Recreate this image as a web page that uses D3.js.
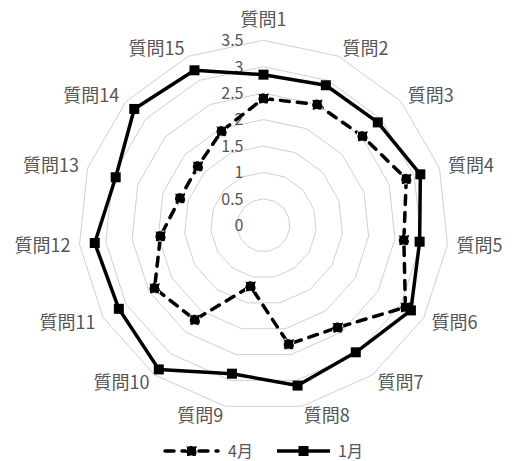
<!DOCTYPE html>
<html>
<head>
<meta charset="utf-8">
<script src="https://cdn.jsdelivr.net/npm/d3@7"></script>
<style>
  html, body { margin: 0; padding: 0; background: #fff; }
  svg { display: block; }
  text { font-family: "Noto Sans CJK JP", "Noto Sans", sans-serif; }
</style>
</head>
<body>
<svg id="chart" width="512" height="461"></svg>
<script>
// Survey results by question, two months
const categories = ["質問1","質問2","質問3","質問4","質問5","質問6","質問7","質問8",
                    "質問9","質問10","質問11","質問12","質問13","質問14","質問15"];
const seriesNames = ["4月", "1月"];
const aprilValues = [2.40, 2.50, 2.52, 2.84, 2.67, 3.10, 2.39, 2.30, 1.18, 2.21, 2.38, 1.96, 1.66, 1.67, 1.95];
const januaryValues = [2.85, 2.90, 2.91, 3.12, 2.97, 3.22, 2.97, 3.10, 2.87, 3.37, 3.16, 3.21, 2.94, 3.29, 3.21];
const tickValues = [0, 0.5, 1, 1.5, 2, 2.5, 3, 3.5];
const tickLabels = ["0", "0.5", "1", "1.5", "2", "2.5", "3", "3.5"];

const svg = d3.select("#chart");
const cx = 263.5, cy = 225.3;
const rMax = 185;

const r = d3.scaleLinear().domain([0, 3.5]).range([0, rMax]);
const step = 2 * Math.PI / categories.length;
const ang = (i) => i * step;

const g = svg.append("g").attr("transform", `translate(${cx},${cy})`);

// Polygonal grid rings
const ringLine = d3.lineRadial().curve(d3.curveLinearClosed);
g.append("g").selectAll("path")
  .data(tickValues.filter(v => v > 0))
  .join("path")
  .attr("d", v => ringLine(categories.map((c, i) => [ang(i), r(v)])))
  .attr("fill", "none")
  .attr("stroke", "#d0d0d0")
  .attr("stroke-width", 1);

// Value axis labels along the top spoke
g.append("g").selectAll("text")
  .data(tickValues)
  .join("text")
  .attr("x", -20)
  .attr("y", v => -r(v))
  .attr("dy", "0.36em")
  .attr("text-anchor", "end")
  .attr("font-size", 16)
  .attr("fill", "#555")
  .text((v, i) => tickLabels[i]);

// Category labels around the outside
const labelR = rMax + 9;
g.append("g").selectAll("text")
  .data(categories)
  .join("text")
  .each(function(d, i) {
    const a = ang(i);
    const s = Math.sin(a), c = Math.cos(a);
    const x = labelR * s, y = -labelR * c;
    const t = d3.select(this);
    if (Math.abs(s) < 0.1) {
      t.attr("x", x).attr("y", y - 5).attr("text-anchor", "middle");
    } else {
      t.attr("x", x).attr("y", y).attr("dy", "0.36em")
       .attr("text-anchor", s > 0 ? "start" : "end");
    }
  })
  .attr("font-size", 18)
  .attr("fill", "#555")
  .text(d => d);

// Series
const series = [
  { name: seriesNames[0], values: aprilValues, dash: "9,8" },
  { name: seriesNames[1], values: januaryValues, dash: null }
];
const seriesLine = d3.lineRadial().curve(d3.curveLinearClosed);

series.forEach(s => {
  const pts = s.values.map((v, i) => [ang(i), r(v)]);
  g.append("path")
    .attr("d", seriesLine(pts))
    .attr("fill", "none")
    .attr("stroke", "#000")
    .attr("stroke-width", 3.5)
    .attr("stroke-linecap", s.dash ? "round" : "butt")
    .attr("stroke-linejoin", "round")
    .attr("stroke-dasharray", s.dash);
  g.append("g").selectAll("rect")
    .data(s.values)
    .join("rect")
    .attr("x", (v, i) => r(v) * Math.sin(ang(i)) - 5)
    .attr("y", (v, i) => -r(v) * Math.cos(ang(i)) - 5)
    .attr("width", 10)
    .attr("height", 10)
    .attr("fill", "#000")
    .attr("stroke", s.dash ? "#fff" : "none")
    .attr("stroke-width", s.dash ? 1 : 0)
    .attr("stroke-dasharray", s.dash ? "3,3" : null);
});

// Legend
const legend = svg.append("g").attr("transform", "translate(165,451)");
const item = legend.selectAll("g")
  .data(series)
  .join("g")
  .attr("transform", (d, i) => `translate(${i * 112},0)`);
item.append("line")
  .attr("x1", 0).attr("x2", 53).attr("y1", 0).attr("y2", 0)
  .attr("stroke", "#000").attr("stroke-width", 3.5)
  .attr("stroke-linecap", d => d.dash ? "round" : "butt")
  .attr("stroke-dasharray", d => d.dash);
item.append("rect")
  .attr("x", 26.5 - 5).attr("y", -5).attr("width", 10).attr("height", 10)
  .attr("fill", "#000")
  .attr("stroke", d => d.dash ? "#fff" : "none")
  .attr("stroke-width", d => d.dash ? 1 : 0)
  .attr("stroke-dasharray", d => d.dash ? "3,3" : null);
item.append("text")
  .attr("x", d => d.dash ? 63 : 61)
  .attr("y", 0).attr("dy", "0.36em")
  .attr("font-size", 16)
  .attr("fill", "#555")
  .text(d => d.name);
</script>
</body>
</html>
